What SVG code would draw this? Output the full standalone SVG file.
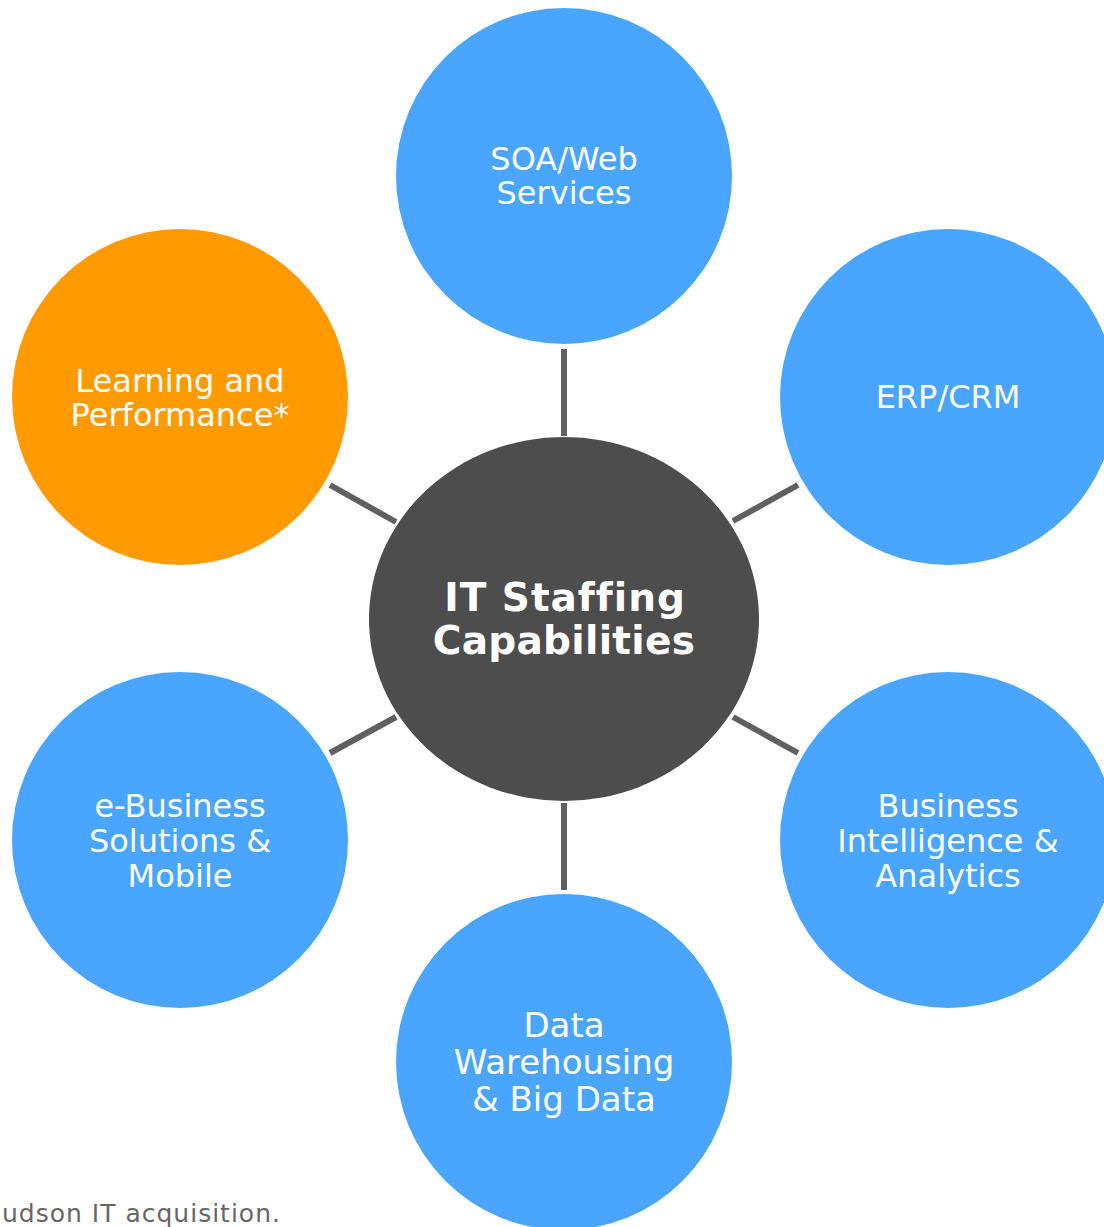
<svg xmlns="http://www.w3.org/2000/svg" width="1104" height="1227" viewBox="0 0 1104 1227">
  <style>
    .hub { fill: #4d4d4d; }
    .cap { fill: #4aa5ff; }
    .cap-alt { fill: #ff9b00; }
    .label { font-family: "DejaVu Sans", "Liberation Sans", sans-serif; font-size: 32px; fill: #ffffff; text-anchor: middle; }
    .label-lg { font-size: 34px; }
    .hub-label { font-family: "DejaVu Sans", "Liberation Sans", sans-serif; font-size: 39px; font-weight: bold; fill: #ffffff; text-anchor: middle; }
    .spoke { stroke: #606060; stroke-width: 6; fill: none; }
    .note { font-family: "DejaVu Sans", "Liberation Sans", sans-serif; font-size: 25px; letter-spacing: 1px; fill: #666666; }
  </style>
  <rect width="1104" height="1227" fill="#ffffff"/>

  <!-- spokes from the hub to each capability -->
  <g id="connectors">
    <line class="spoke" x1="564" y1="349" x2="564" y2="436"/>
    <line class="spoke" x1="564" y1="803" x2="564" y2="890"/>
    <line class="spoke" x1="330" y1="485" x2="396" y2="522"/>
    <line class="spoke" x1="733" y1="521" x2="798" y2="485"/>
    <line class="spoke" x1="330" y1="753" x2="396" y2="717"/>
    <line class="spoke" x1="733" y1="717" x2="798" y2="753"/>
  </g>

  <g id="hub">
    <ellipse class="hub" cx="564" cy="619" rx="195" ry="182"/>
    <text class="hub-label" x="565" y="611" letter-spacing="1">IT Staffing</text>
    <text class="hub-label" x="564" y="654" letter-spacing="0.3">Capabilities</text>
  </g>

  <g id="soa">
    <circle class="cap" cx="564" cy="176" r="168"/>
    <text class="label" x="564" y="170">SOA/Web</text>
    <text class="label" x="564" y="204">Services</text>
  </g>

  <g id="erp">
    <circle class="cap" cx="948" cy="397" r="168"/>
    <text class="label" x="948" y="408">ERP/CRM</text>
  </g>

  <g id="learning">
    <circle class="cap-alt" cx="180" cy="397" r="168"/>
    <text class="label" x="180" y="392">Learning and</text>
    <text class="label" x="180" y="426">Performance*</text>
  </g>

  <g id="ebusiness">
    <circle class="cap" cx="180" cy="840" r="168"/>
    <text class="label" x="180" y="817">e-Business</text>
    <text class="label" x="180" y="852">Solutions &amp;</text>
    <text class="label" x="180" y="887">Mobile</text>
  </g>

  <g id="bi">
    <circle class="cap" cx="948" cy="840" r="168"/>
    <text class="label" x="948" y="817">Business</text>
    <text class="label" x="948" y="852">Intelligence &amp;</text>
    <text class="label" x="948" y="887">Analytics</text>
  </g>

  <g id="data">
    <circle class="cap" cx="564" cy="1062" r="168"/>
    <text class="label label-lg" x="564" y="1037">Data</text>
    <text class="label label-lg" x="564" y="1074">Warehousing</text>
    <text class="label label-lg" x="564" y="1111">&amp; Big Data</text>
  </g>

  <text class="note" x="2" y="1222">udson IT acquisition.</text>
</svg>
